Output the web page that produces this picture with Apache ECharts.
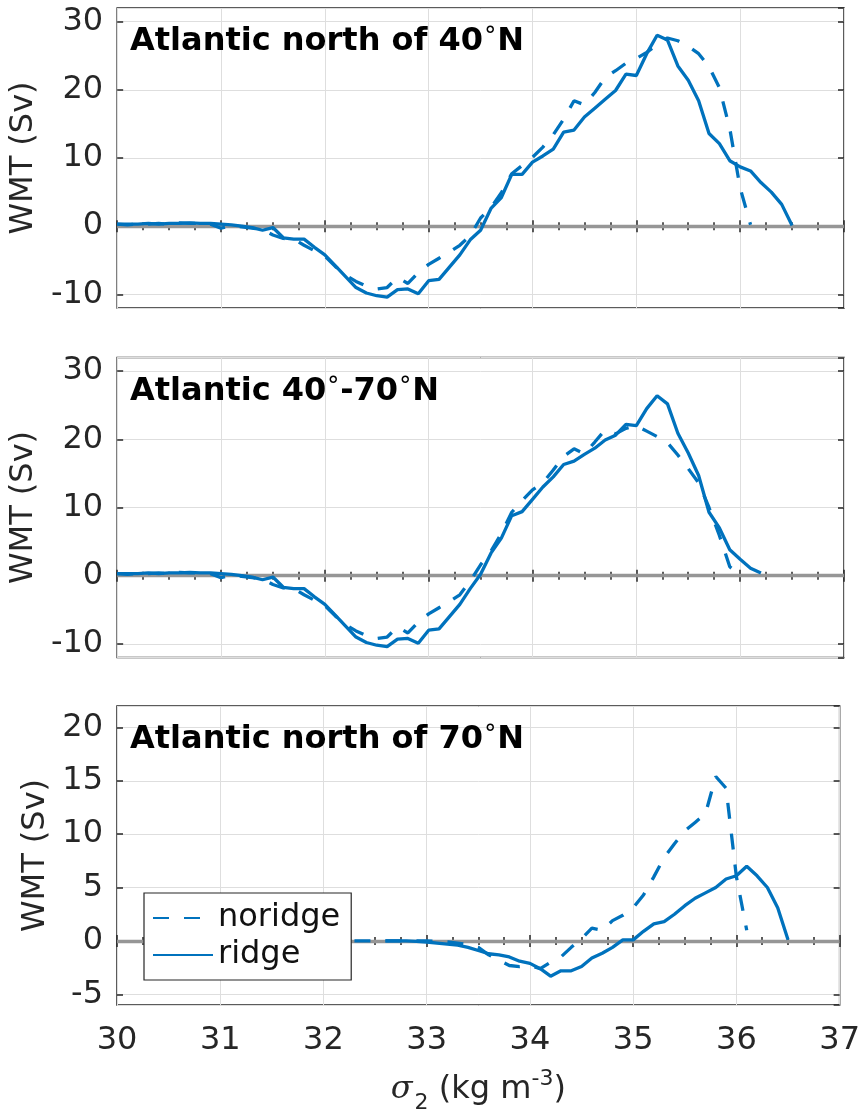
<!DOCTYPE html>
<html>
<head>
<meta charset="utf-8">
<script src="https://cdn.jsdelivr.net/npm/echarts@6/dist/echarts.min.js"></script>
<style>
  html, body { margin: 0; padding: 0; background: #fff; }
  #chart { width: 863px; height: 1115px; }
</style>
</head>
<body>
<div id="chart"></div>
<script>
// density axis (sigma_2, kg m-3)
const sigma = [
  30.0, 30.1, 30.2, 30.3, 30.4, 30.5, 30.6, 30.7, 30.8, 30.9,
  31.0, 31.1, 31.2, 31.3, 31.4, 31.5, 31.6, 31.7, 31.8, 31.9,
  32.0, 32.1, 32.2, 32.3, 32.4, 32.5, 32.6, 32.7, 32.8, 32.9,
  33.0, 33.1, 33.2, 33.3, 33.4, 33.5, 33.6, 33.7, 33.8, 33.9,
  34.0, 34.1, 34.2, 34.3, 34.4, 34.5, 34.6, 34.7, 34.8, 34.9,
  35.0, 35.1, 35.2, 35.3, 35.4, 35.5, 35.6, 35.7, 35.8, 35.9,
  36.0, 36.1, 36.2, 36.3, 36.4, 36.5
];

// Atlantic north of 40N
const ridgeN40 = [
  0.3, 0.3, 0.3, 0.4, 0.3, 0.4, 0.4, 0.5, 0.4, 0.4,
  0.3, 0.2, 0.0, -0.2, -0.6, -0.2, -1.7, -1.9, -1.9, -3.1,
  -4.2, -5.8, -7.4, -9.0, -9.8, -10.2, -10.4, -9.3, -9.2, -9.9,
  -8.0, -7.8, -6.0, -4.2, -2.0, -0.6, 2.6, 4.2, 7.6, 7.6,
  9.4, 10.3, 11.3, 13.8, 14.1, 16.0, 17.3, 18.6, 19.9, 22.3,
  22.1, 25.3, 28.0, 27.3, 23.5, 21.4, 18.4, 13.6, 12.1, 9.6,
  8.7, 8.1, 6.4, 5.0, 3.2, 0.1
];
const noridgeN40 = [
  0.3, 0.2, 0.3, 0.3, 0.4, 0.3, 0.5, 0.4, 0.4, 0.3,
  -0.3, 0.1, -0.1, -0.3, -0.5, -1.3, -1.8, -1.9, -2.8, -3.6,
  -4.4, -5.9, -7.2, -8.1, -8.8, -9.2, -9.0, -7.5, -8.4, -6.8,
  -5.6, -4.7, -3.8, -2.8, -1.4, 1.2, 2.7, 4.9, 7.7, 8.9,
  10.1, 11.6, 13.4, 15.7, 18.4, 17.8, 19.6, 21.8, 22.8, 23.9,
  24.6, 25.5, 26.6, 27.6, 27.2, 26.4, 25.3, 23.4, 20.3, 14.3,
  5.6, 0.2, null, null, null, null
];

// Atlantic 40N-70N
const ridge4070 = [
  0.3, 0.3, 0.3, 0.4, 0.3, 0.4, 0.4, 0.5, 0.4, 0.4,
  0.3, 0.2, 0.0, -0.2, -0.6, -0.2, -1.7, -1.9, -1.9, -3.1,
  -4.2, -5.8, -7.4, -9.0, -9.8, -10.2, -10.4, -9.3, -9.2, -9.9,
  -8.0, -7.8, -6.0, -4.2, -1.9, 0.2, 3.3, 5.5, 8.8, 9.4,
  11.2, 13.0, 14.5, 16.3, 16.8, 17.8, 18.7, 19.9, 20.6, 22.2,
  22.0, 24.5, 26.4, 25.2, 20.9, 18.0, 14.7, 9.3, 7.0, 3.8,
  2.4, 1.1, 0.4, null, null, null
];
const noridge4070 = [
  0.3, 0.2, 0.3, 0.3, 0.4, 0.3, 0.5, 0.4, 0.4, 0.3,
  -0.3, 0.1, -0.1, -0.3, -0.5, -1.3, -1.8, -1.9, -2.8, -3.6,
  -4.4, -5.9, -7.2, -8.1, -8.8, -9.2, -9.0, -7.5, -8.4, -6.8,
  -5.6, -4.7, -3.8, -2.8, -0.8, 1.6, 3.6, 6.2, 9.3, 11.0,
  12.6, 13.6, 15.5, 17.5, 18.6, 17.9, 19.6, 21.4, 20.8, 21.6,
  22.0, 21.2, 20.4, 19.5, 17.7, 15.7, 13.6, 10.0, 5.9, 1.3,
  0.1, null, null, null, null, null
];

// Atlantic north of 70N
const ridgeN70 = [
  null, null, null, null, null, null, null, null, null, null,
  null, null, null, null, null, null, null, null, null, null,
  null, null, null, null, null, null, 0.0, 0.0, 0.0, -0.05,
  -0.1, -0.2, -0.3, -0.4, -0.6, -0.9, -1.2, -1.3, -1.5, -1.9,
  -2.1, -2.6, -3.3, -2.8, -2.8, -2.4, -1.6, -1.15, -0.6, 0.1,
  0.1, 0.9, 1.6, 1.8, 2.5, 3.3, 4.0, 4.5, 5.0, 5.8,
  6.1, 7.0, 6.1, 5.0, 3.1, 0.1
];
const noridgeN70 = [
  null, null, null, null, null, null, null, null, null, null,
  null, null, null, null, null, null, null, null, null, null,
  null, null, null, 0.0, 0.0, 0.0, 0.0, 0.0, 0.0, 0.0,
  0.0, -0.05, -0.1, -0.2, -0.35, -0.6, -1.3, -1.8, -2.3, -2.4,
  -2.3, -2.6, -2.0, -1.5, -0.6, 0.2, 1.2, 1.0, 1.9, 2.4,
  3.1, 4.3, 6.0, 7.8, 9.1, 10.3, 11.1, 11.9, 15.4, 14.3,
  6.0, 1.0, null, null, null, null
];

const FONT = 'DejaVu Sans';
const INK = '#262626';
const BLUE = '#0072BD';
const FS = 32;

const panels = [
  { top: 8, ymin: -12, ymax: 32, ridge: ridgeN40, noridge: noridgeN40, nameGap: 75,
    title: '{t|Atlantic north of 40}{d|°}{t|N}' },
  { top: 357.5, ymin: -12, ymax: 32, ridge: ridge4070, noridge: noridge4070, nameGap: 75,
    title: '{t|Atlantic 40}{d|°}{t|-70}{d|°}{t|N}' },
  { top: 706, ymin: -6, ymax: 22, ridge: ridgeN70, noridge: noridgeN70, nameGap: 62,
    title: '{t|Atlantic north of 70}{d|°}{t|N}' }
];

function pairs(vals) {
  const out = [];
  sigma.forEach((s, i) => {
    if (vals[i] != null) out.push([s, vals[i]]);
  });
  return out;
}

const tickStyle = { color: INK, width: 1.5 };
const grid = [], xAxis = [], yAxis = [], series = [], title = [];

panels.forEach((p, i) => {
  const last = i === panels.length - 1;
  grid.push({
    left: 117, top: p.top, width: 727, height: 300,
    show: true, borderColor: INK, borderWidth: 1.5, backgroundColor: '#fff'
  });

  xAxis.push({
    type: 'value', gridIndex: i, position: 'bottom', min: 30, max: 37, interval: 1,
    axisLine: { show: false },
    axisTick: { inside: true, length: 6, lineStyle: tickStyle },
    minorTick: { show: true, splitNumber: 4, length: 4, lineStyle: tickStyle },
    splitLine: { show: true, lineStyle: { color: '#dedede', width: 1 } },
    axisLabel: { show: last, color: INK, fontSize: FS, fontFamily: FONT, margin: 20 },
    name: last ? '{s|σ}{sub|2}{n| (kg m}{sup|-3}{n|)}' : '',
    nameLocation: 'middle', nameGap: 61,
    nameTextStyle: {
      color: INK, fontSize: FS, fontFamily: FONT,
      rich: {
        s: { fontSize: 32, fontFamily: 'DejaVu Serif', fontStyle: 'italic', color: INK },
        sub: { fontSize: 22, fontFamily: FONT, color: INK, padding: [26, 0, 0, 2] },
        n: { fontSize: FS, fontFamily: FONT, color: INK },
        sup: { fontSize: 22, fontFamily: FONT, color: INK, padding: [0, 0, 22, 0] }
      }
    }
  });
  xAxis.push({
    type: 'value', gridIndex: i, position: 'top', min: 30, max: 37, interval: 1,
    axisLine: { show: false },
    axisTick: { inside: true, length: 6, lineStyle: tickStyle },
    minorTick: { show: true, splitNumber: 4, length: 4, lineStyle: tickStyle },
    splitLine: { show: false },
    axisLabel: { show: false }
  });

  yAxis.push({
    type: 'value', gridIndex: i, position: 'left', min: p.ymin, max: p.ymax, splitNumber: 5,
    axisLine: { show: false },
    axisTick: { inside: true, length: 6, lineStyle: tickStyle },
    splitLine: { show: true, lineStyle: { color: '#dedede', width: 1 } },
    axisLabel: { color: INK, fontSize: FS, fontFamily: FONT, margin: 14,
      showMinLabel: false, showMaxLabel: false },
    name: 'WMT (Sv)', nameLocation: 'middle', nameGap: p.nameGap,
    nameTextStyle: { color: INK, fontSize: FS, fontFamily: FONT }
  });
  yAxis.push({
    type: 'value', gridIndex: i, position: 'right', min: p.ymin, max: p.ymax, splitNumber: 5,
    axisLine: { show: false },
    axisTick: { inside: true, length: 6, lineStyle: tickStyle },
    splitLine: { show: false },
    axisLabel: { show: false }
  });

  const common = {
    type: 'line', xAxisIndex: 2 * i, yAxisIndex: 2 * i,
    symbol: 'none', showSymbol: false, silent: true,
    emphasis: { disabled: true },
    itemStyle: { color: BLUE }
  };
  series.push({
    ...common, name: 'ridge', z: 3,
    data: pairs(p.ridge),
    lineStyle: { color: BLUE, width: 3.3, type: 'solid' },
    markLine: {
      silent: true, symbol: 'none', z: 1, animation: false,
      label: { show: false },
      emphasis: { disabled: true },
      lineStyle: { color: '#969696', width: 3.3, type: 'solid' },
      data: [{ yAxis: 0 }]
    }
  });
  series.push({
    ...common, name: 'noridge', z: 4,
    data: pairs(p.noridge),
    lineStyle: { color: BLUE, width: 3.3, type: [16, 15] }
  });

  title.push({
    text: p.title, left: 130, top: p.top + 14, padding: 0,
    textStyle: {
      fontSize: 32, fontWeight: 'bold', fontFamily: FONT, color: '#000', lineHeight: 40,
      rich: {
        t: { fontSize: 32, fontWeight: 'bold', fontFamily: FONT, color: '#000', lineHeight: 40 },
        d: { fontSize: 24, fontWeight: 'normal', fontFamily: FONT, color: '#000', padding: [0, 1, 8, 1] }
      }
    }
  });
});

const chart = echarts.init(document.getElementById('chart'), null, { renderer: 'canvas' });
chart.setOption({
  animation: false,
  backgroundColor: '#fff',
  title: title,
  grid: grid,
  xAxis: xAxis,
  yAxis: yAxis,
  legend: {
    orient: 'vertical', left: 144, top: 893,
    data: ['noridge', 'ridge'],
    itemWidth: 60, itemHeight: 2, itemGap: 1,
    padding: [7, 11, 7, 8],
    backgroundColor: '#fff', borderColor: INK, borderWidth: 1.2,
    itemStyle: { opacity: 0 },
    textStyle: { fontSize: FS, color: '#111', fontFamily: FONT, lineHeight: 36 },
    selectedMode: false
  },
  series: series
});
</script>
</body>
</html>
